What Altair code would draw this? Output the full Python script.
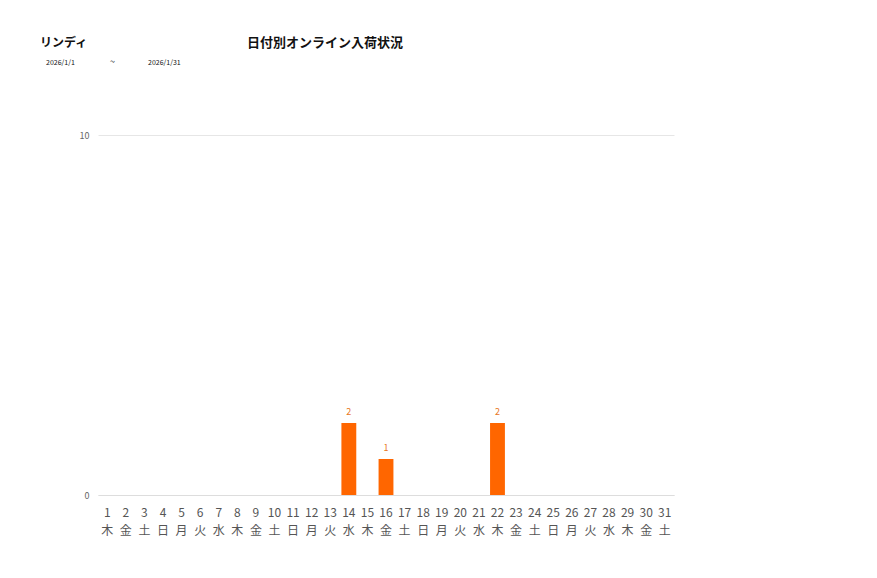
import altair as alt
import pandas as pd

days = [str(i) for i in range(1, 32)]
weekdays = ["木", "金", "土", "日", "月", "火", "水"] * 4 + ["木", "金", "土"]
values = [0] * 31
values[13] = 2
values[15] = 1
values[21] = 2

df = pd.DataFrame({
    "day": days,
    "wd": weekdays,
    "value": values,
})
df["label"] = df["day"] + "|" + df["wd"]
order = list(df["label"])

FONT = "Noto Sans CJK JP"

x = alt.X("label:N", sort=order, title=None,
          scale=alt.Scale(paddingInner=0.2, paddingOuter=0.1),
          axis=alt.Axis(labelAngle=0, labelExpr="split(datum.label, '|')",
                        labelFontSize=12, labelColor="#555555", labelFont=FONT,
                        labelLineHeight=18, labelPadding=12,
                        ticks=False, domain=True, domainColor="#dddddd"))
y = alt.Y("value:Q", title=None,
          scale=alt.Scale(domain=[0, 10]),
          axis=alt.Axis(values=[0, 10], labelFontSize=9, labelColor="#666666",
                        labelFont=FONT, labelPadding=9, ticks=False, domain=False,
                        gridColor="#e6e6e6"))

base = alt.Chart(df)
bars = base.mark_bar(color="#FF6600").encode(x=x, y=y)
labels = base.transform_filter("datum.value > 0").mark_text(
    dy=-11, fontSize=9, color="#E87722", font=FONT
).encode(x=x, y=y, text="value:Q")

titles = pd.DataFrame({
    "t": ["リンディ", "日付別オンライン入荷状況", "2026/1/1", "~", "2026/1/31"],
    "px": [-58, 149, -52, 12, 50],
    "py": [-92, -92, -72, -73, -72],
    "fs": [12, 13, 7, 9, 7],
    "fw": ["bold", "bold", "normal", "normal", "normal"],
})

def title_text(i):
    r = titles.iloc[i]
    return alt.Chart(titles.iloc[[i]]).mark_text(
        align="left", baseline="middle", fontSize=float(r.fs), fontWeight=r.fw,
        font=FONT, color="#111111"
    ).encode(x=alt.value(int(r.px)), y=alt.value(int(r.py)), text="t:N")

chart = alt.layer(bars, labels, *[title_text(i) for i in range(len(titles))]).properties(
    width=576, height=360,
    autosize=alt.AutoSizeParams(type="none"),
    padding={"left": 90, "top": 127, "right": 180, "bottom": 60},
).configure(background="white").configure_view(strokeWidth=0, stroke="transparent")

chart.save("out.html", embed_options={"renderer": "svg", "actions": False})
